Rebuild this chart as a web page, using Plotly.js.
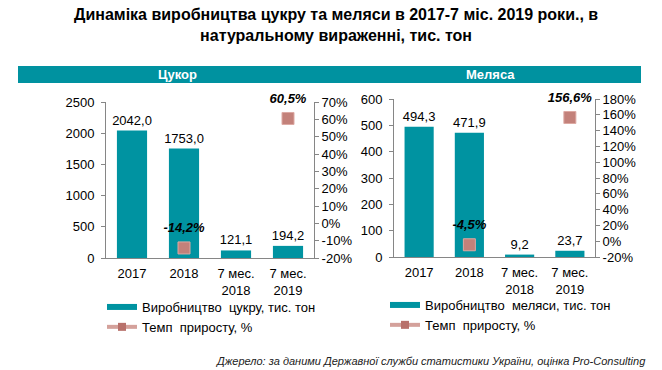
<!DOCTYPE html>
<html>
<head>
<meta charset="utf-8">
<script src="https://cdn.plot.ly/plotly-3.0.1.min.js"></script>
<style>html,body{margin:0;padding:0;background:#fff;}#chart{width:662px;height:370px;}</style>
</head>
<body>
<div id="chart"></div>
<script>
// ---- data ----
const categories = ['2017', '2018', '7 мес.<br>2018', '7 мес.<br>2019'];
const sugarProduction = [2042.0, 1753.0, 121.1, 194.2];
const sugarGrowth = [null, -14.2, null, 60.5];
const molassesProduction = [494.3, 471.9, 9.2, 23.7];
const molassesGrowth = [null, -4.5, null, 156.6];
const sugarTicksLeft = [0, 500, 1000, 1500, 2000, 2500];
const sugarTicksRight = [-20, -10, 0, 10, 20, 30, 40, 50, 60, 70];
const molassesTicksLeft = [0, 100, 200, 300, 400, 500, 600];
const molassesTicksRight = [-20, 0, 20, 40, 60, 80, 100, 120, 140, 160, 180];
const sugarBarName = 'Виробництво\u00A0 цукру, тис. тон';
const molassesBarName = 'Виробництво\u00A0 меляси, тис. тон';
const growthName = 'Темп\u00A0 приросту, %';
const titleText = 'Динаміка виробництва цукру та меляси в 2017-7 міс. 2019 роки., в<br>натуральному вираженні, тис. тон';
const sourceText = 'Джерело: за даними Державної служби статистики України, оцінка Pro-Consulting';

const fmt = v => (v == null ? '' : v.toFixed(1).replace('.', ','));
const fmtPct = v => (v == null ? '' : v.toFixed(1).replace('.', ',') + '%');
const pctTick = v => (v < 0 ? '-' : '') + Math.abs(v) + '%';

const FONT = 'Arial, "Liberation Sans", sans-serif';
const W = 662, H = 370;
const px = x => x / W;
const py = y => 1 - y / H;

const barColor = '#0093A1';
const markerColor = '#C3817A';
const lineColor = '#D4A19B';
const axisColor = '#868686';

function barTrace(vals, xa, ya) {
  return {
    type: 'bar', x: categories, y: vals, xaxis: xa, yaxis: ya, showlegend: false,
    marker: {color: barColor}, width: 0.58,
    text: vals.map(fmt), textposition: 'outside', constraintext: 'none', cliponaxis: false,
    textfont: {family: FONT, size: 13, color: '#000'}, hoverinfo: 'skip'
  };
}
function growthTrace(vals, xa, ya) {
  return {
    type: 'scatter', mode: 'lines+markers', x: categories, y: vals, xaxis: xa, yaxis: ya,
    connectgaps: false, cliponaxis: false, showlegend: false,
    line: {color: lineColor, width: 4},
    marker: {symbol: 'square', size: 12, color: markerColor, line: {color: '#DDA9A3', width: 1}},
    hoverinfo: 'skip'
  };
}
function growthLabels(vals, xa, ya) {
  return {
    type: 'scatter', mode: 'markers+text', x: categories, y: vals, xaxis: xa, yaxis: ya,
    text: vals.map(fmtPct), textposition: 'top center', cliponaxis: false, showlegend: false,
    textfont: {family: FONT, size: 13, color: '#000', weight: 'bold', style: 'italic'},
    marker: {size: 18, opacity: 0}, hoverinfo: 'skip'
  };
}
// legend-only entries (no data points)
function legendBar(name, legend) {
  return {type: 'scatter', mode: 'lines', x: [null], y: [null], name: name, legend: legend,
    line: {color: barColor, width: 6}, hoverinfo: 'skip'};
}
function legendLine(legend, xa, ya) {
  return {type: 'scatter', mode: 'lines+markers', x: [null], y: [null], name: growthName, legend: legend,
    xaxis: xa, yaxis: ya,
    line: {color: lineColor, width: 4},
    marker: {symbol: 'square', size: 8, color: '#B8716B'}, hoverinfo: 'skip'};
}

const data = [
  barTrace(sugarProduction, 'x', 'y'),
  growthTrace(sugarGrowth, 'x', 'y2'),
  growthLabels(sugarGrowth, 'x', 'y2'),
  barTrace(molassesProduction, 'x2', 'y3'),
  growthTrace(molassesGrowth, 'x2', 'y4'),
  growthLabels(molassesGrowth, 'x2', 'y4'),
  Object.assign(legendBar(sugarBarName, 'legend'), {xaxis: 'x', yaxis: 'y'}),
  legendLine('legend', 'x', 'y2'),
  Object.assign(legendBar(molassesBarName, 'legend2'), {xaxis: 'x2', yaxis: 'y3'}),
  legendLine('legend2', 'x2', 'y4')
];

const tickFont = {family: FONT, size: 13, color: '#000'};
function xAxis(domain, anchor) {
  return {domain: domain, anchor: anchor, type: 'category', showline: true, linecolor: axisColor,
    linewidth: 1, ticks: '', showgrid: false, zeroline: false, tickfont: tickFont, fixedrange: true,
    ticklabelstandoff: 3};
}
function yAxis(domain, range, tickvals, anchor, extra) {
  return Object.assign({domain: domain, range: range, tickmode: 'array', tickvals: tickvals, anchor: anchor,
    showline: true, linecolor: axisColor, linewidth: 1, ticks: 'outside', ticklen: 4, tickcolor: axisColor,
    showgrid: false, zeroline: false, tickfont: tickFont, fixedrange: true}, extra || {});
}

const leftDomX = [px(106), px(314)];
const leftDomY = [py(258), py(102)];
const rightDomX = [px(394), px(595)];
const rightDomY = [py(257), py(99)];

const legendCommon = {xanchor: 'left', yanchor: 'top', bgcolor: 'rgba(0,0,0,0)',
  font: {family: FONT, size: 13, color: '#000'}, tracegroupgap: 0, traceorder: 'normal'};

const layout = {
  width: W, height: H,
  margin: {l: 0, r: 0, t: 0, b: 0},
  paper_bgcolor: '#fff', plot_bgcolor: 'rgba(0,0,0,0)',
  separators: ', ',
  xaxis: xAxis(leftDomX, 'y'),
  yaxis: yAxis(leftDomY, [0, 2500], sugarTicksLeft, 'x', {ticklabelstandoff: 4}),
  yaxis2: yAxis(leftDomY, [-20, 70], sugarTicksRight, 'x', {overlaying: 'y', side: 'right',
    ticktext: sugarTicksRight.map(pctTick)}),
  xaxis2: xAxis(rightDomX, 'y3'),
  yaxis3: yAxis(rightDomY, [0, 600], molassesTicksLeft, 'x2', {ticklabelstandoff: 4}),
  yaxis4: yAxis(rightDomY, [-20, 180], molassesTicksRight, 'x2', {overlaying: 'y3', side: 'right',
    ticktext: molassesTicksRight.map(pctTick)}),
  legend: Object.assign({x: px(102), y: py(292)}, legendCommon),
  legend2: Object.assign({x: px(385), y: py(290)}, legendCommon),
  shapes: [
    {type: 'rect', xref: 'paper', yref: 'paper', x0: px(18), x1: px(641), y0: py(83), y1: py(66),
      fillcolor: '#0092A0', line: {width: 0}, layer: 'below'}
  ],
  annotations: [
    {text: titleText, xref: 'paper', yref: 'paper', x: px(336), y: py(4), xanchor: 'center', yanchor: 'top',
      showarrow: false, align: 'center', font: {family: FONT, size: 16, color: '#000', weight: 'bold'}},
    {text: 'Цукор', xref: 'paper', yref: 'paper', x: px(177), y: py(74.5), xanchor: 'center', yanchor: 'middle',
      showarrow: false, font: {family: FONT, size: 13, color: '#fff', weight: 'bold'}},
    {text: 'Меляса', xref: 'paper', yref: 'paper', x: px(490), y: py(74.5), xanchor: 'center', yanchor: 'middle',
      showarrow: false, font: {family: FONT, size: 13, color: '#fff', weight: 'bold'}},
    {text: sourceText, xref: 'paper', yref: 'paper', x: px(648), y: py(361), xanchor: 'right', yanchor: 'middle',
      showarrow: false, font: {family: FONT, size: 11, color: '#222', style: 'italic'}}
  ]
};

Plotly.newPlot('chart', data, layout, {displayModeBar: false, staticPlot: true});
</script>
</body>
</html>
